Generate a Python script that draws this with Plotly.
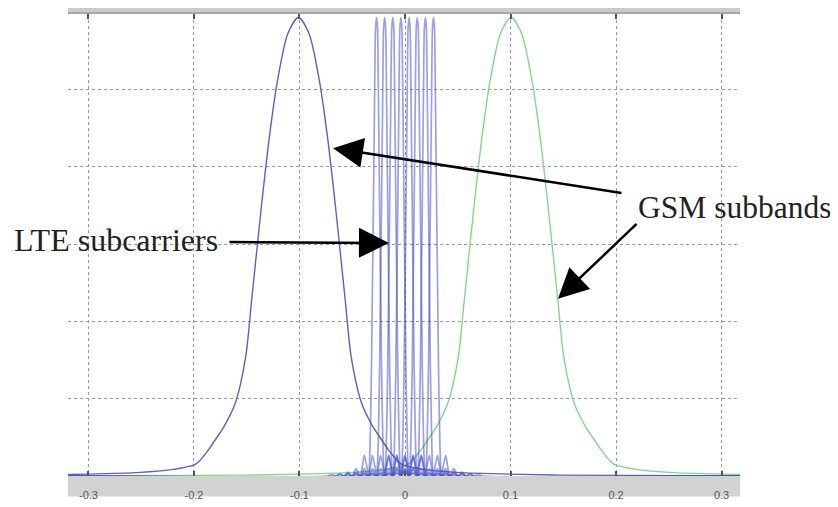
import plotly.graph_objects as go

# ---- data ----
x_tick_vals = [-0.3, -0.2, -0.1, 0.0, 0.1, 0.2, 0.3]
x_tick_text = ["-0.3", "-0.2", "-0.1", "0", "0.1", "0.2", "0.3"]
y_grid_vals = [1, 2, 3, 4, 5]

peak_height = 5.93

# GSM subband profile (offset from centre, relative amplitude)
gsm_offsets = [-0.45, -0.25, -0.2, -0.15, -0.12, -0.11, -0.1, -0.095, -0.09, -0.085, -0.08, -0.07,
               -0.06, -0.05, -0.0445, -0.035, -0.0275, -0.02, -0.01, 0.0, 0.01, 0.02, 0.0275,
               0.035, 0.0445, 0.05, 0.06, 0.07, 0.08, 0.085, 0.09, 0.095, 0.1, 0.11, 0.12, 0.15,
               0.2, 0.25, 0.45]
gsm_values = [0.0, 0.002, 0.004, 0.008, 0.014, 0.018, 0.023, 0.03, 0.043, 0.058, 0.075, 0.11,
              0.158, 0.26, 0.38, 0.59, 0.74, 0.86, 0.965, 1.0, 0.965, 0.86, 0.74,
              0.59, 0.38, 0.26, 0.158, 0.11, 0.075, 0.058, 0.043, 0.03, 0.023, 0.018, 0.014, 0.008,
              0.004, 0.002, 0.0]
gsm_centers = [-0.101, 0.1005]
gsm_colors = ["#5f5fc4", "#86d68a"]

# LTE subcarrier profile (offset in x units, relative amplitude)
lte_offsets = [-0.35, -0.0462, -0.0424, -0.0385, -0.0347, -0.0308, -0.0270, -0.0231, -0.0193,
               -0.0154, -0.0135, -0.0116, -0.0096, -0.0077, -0.0067, -0.0058, -0.0048, -0.0039,
               -0.0029, -0.0019, -0.0010, 0.0, 0.0010, 0.0019, 0.0029, 0.0039, 0.0048, 0.0058,
               0.0067, 0.0077, 0.0096, 0.0116, 0.0135, 0.0154, 0.0193, 0.0231, 0.0270, 0.0308,
               0.0347, 0.0385, 0.0424, 0.0462, 0.35]
lte_values = [0.0, 0.0, 0.0033, 0.0, 0.005, 0.0, 0.0083, 0.0, 0.016, 0.0, 0.02, 0.045, 0.026,
              0.0, 0.024, 0.10, 0.23, 0.405, 0.60, 0.81, 0.975, 1.0, 0.975, 0.81, 0.60, 0.405,
              0.23, 0.10, 0.024, 0.0, 0.026, 0.045, 0.02, 0.0, 0.016, 0.0, 0.0083, 0.0, 0.005,
              0.0, 0.0033, 0.0, 0.0]
lte_centers = [-0.027, -0.0193, -0.0116, -0.0039, 0.0039, 0.0116, 0.0193, 0.027]

fig = go.Figure()

for c, col in zip(gsm_centers[::-1], gsm_colors[::-1]):
    fig.add_trace(go.Scatter(
        x=[c + o for o in gsm_offsets], y=[v * peak_height for v in gsm_values],
        mode="lines", line=dict(color=col, width=1.4, shape="spline", smoothing=0.8),
        hoverinfo="skip", showlegend=False))

for c in lte_centers:
    fig.add_trace(go.Scatter(
        x=[c + o for o in lte_offsets], y=[v * peak_height for v in lte_values],
        mode="lines", line=dict(color="rgba(72,82,195,0.55)", width=1.7, shape="spline", smoothing=0.5),
        hoverinfo="skip", showlegend=False))

# page body adds an 8px offset: figure is 830x499 so that it fills the 838x507 window
fig.update_layout(
    width=830, height=499,
    margin=dict(l=60, r=98, t=6, b=21),
    paper_bgcolor="white", plot_bgcolor="white",
    xaxis=dict(range=[-0.3194, 0.3175], tickvals=x_tick_vals, ticktext=x_tick_text,
               showgrid=True, gridcolor="#9a9a9a", griddash="dot", gridwidth=1,
               ticks="inside", ticklen=5, tickcolor="#555", tickwidth=1.5, mirror="ticks",
               tickfont=dict(family="Liberation Sans", size=11, color="#555"),
               ticklabelstandoff=11,
               zeroline=False, showline=False),
    yaxis=dict(range=[0, 5.975], tickvals=y_grid_vals, showticklabels=False,
               showgrid=True, gridcolor="#9a9a9a", griddash="dot", gridwidth=1,
               ticks="", zeroline=False, showline=False),
    shapes=[
        dict(type="rect", xref="paper", yref="paper", x0=0, x1=1, y0=-21 / 472, y1=0,
             fillcolor="#d2d2d2", line=dict(width=0), layer="below"),
        dict(type="rect", xref="paper", yref="paper", x0=0, x1=1, y0=1, y1=1 + 8 / 472,
             fillcolor="#cbcbcb", line=dict(width=0), layer="below"),
        dict(type="line", xref="paper", yref="paper", x0=0, x1=1, y0=1 + 1 / 472, y1=1 + 1 / 472,
             line=dict(color="#a8a8a8", width=2), layer="below"),
    ],
)

serif = "Liberation Serif, Times New Roman, serif"
fig.add_annotation(text="LTE subcarriers", xref="paper", yref="y", x=(12 - 68) / 672, y=3.05,
                   xanchor="left", yanchor="middle", showarrow=False,
                   font=dict(family=serif, size=32, color="#222"))
fig.add_annotation(text="GSM subbands", xref="paper", yref="y", x=(833 - 68) / 672, y=3.47,
                   xanchor="right", yanchor="middle", showarrow=False,
                   font=dict(family=serif, size=31.5, color="#222"))

arrows = [
    (-0.0152, 3.013, -0.1678, 3.025),
    (-0.0682, 4.24, 0.2066, 3.658),
    (0.145, 2.291, 0.2209, 3.278),
]
for x, y, ax, ay in arrows:
    fig.add_annotation(text="", x=x, y=y, ax=ax, ay=ay, xref="x", yref="y", axref="x", ayref="y",
                       showarrow=True, arrowhead=2, arrowsize=2.4, arrowwidth=2.5, arrowcolor="black")

fig.write_html("out.html")
